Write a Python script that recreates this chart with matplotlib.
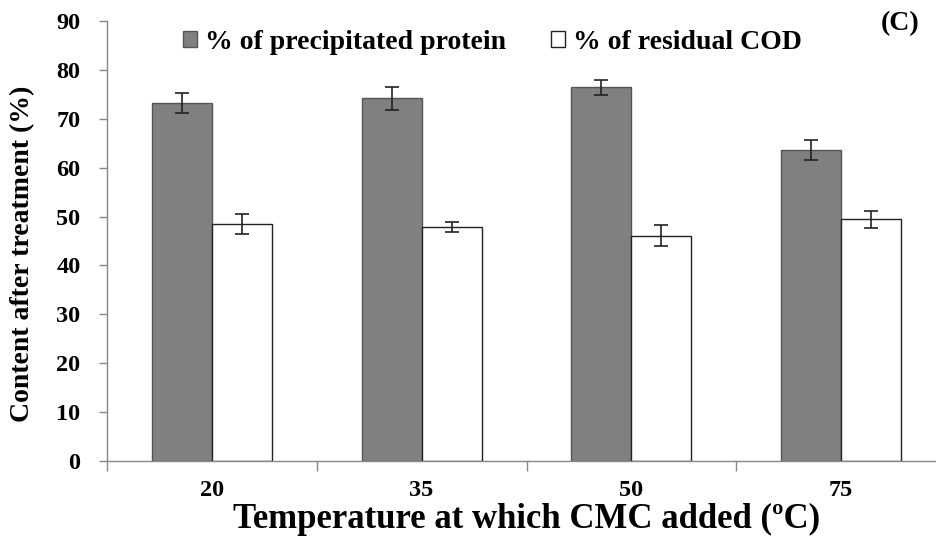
import matplotlib
matplotlib.use("Agg")
import matplotlib.pyplot as plt
import numpy as np
from matplotlib.patches import Patch

categories = ["20", "35", "50", "75"]
protein = [73.2, 74.2, 76.4, 63.6]
protein_err = [2.0, 2.35, 1.6, 2.0]
cod = [48.5, 47.9, 46.1, 49.4]
cod_err = [2.05, 1.0, 2.1, 1.8]

plt.rcParams['font.family'] = ['Liberation Serif', 'DejaVu Serif']
plt.rcParams['font.weight'] = 'bold'

fig = plt.figure(figsize=(9.36, 5.39), dpi=100)
ax = fig.add_axes([107/936, (539-461)/539, 839/936, 440/539])

x = np.arange(len(categories))
w = 0.286
ax.bar(x - w/2, protein, w, color='#808080', edgecolor='#555555', linewidth=1.0,
       yerr=protein_err, capsize=5, error_kw=dict(ecolor='#222222', elinewidth=1.2, capthick=1.2),
       zorder=2)
ax.bar(x + w/2, cod, w, color='white', edgecolor='#222222', linewidth=1.0,
       yerr=cod_err, capsize=5, error_kw=dict(ecolor='#222222', elinewidth=1.2, capthick=1.2),
       zorder=2)

ax.set_xlim(-0.5, len(categories) - 0.5)
ax.set_ylim(0, 90)
ax.set_yticks(np.arange(0, 91, 10))
ax.set_xticks(x)
ax.set_xticklabels(categories)
ax.set_xticks(np.arange(-0.5, len(categories) + 0.5, 1), minor=True)
ax.tick_params(axis='x', which='major', length=0, pad=14, labelsize=17.5)
ax.tick_params(axis='x', which='minor', length=7, color='#888888', width=1)
ax.tick_params(axis='y', length=6, color='#888888', width=1, labelsize=17.5, pad=13)
for lbl in ax.get_xticklabels() + ax.get_yticklabels():
    lbl.set_fontweight('bold')

for s in ['top', 'right']:
    ax.spines[s].set_visible(False)
for s in ['left', 'bottom']:
    ax.spines[s].set_color('#888888')
    ax.spines[s].set_linewidth(1.0)

ax.set_ylabel('Content after treatment (%)', fontsize=20, fontweight='bold')
ax.yaxis.set_label_coords(-0.086, 0.47)
ax.set_xlabel('Temperature at which CMC added (ºC)', fontsize=25, fontweight='bold', labelpad=1)

handles = [Patch(facecolor='#808080', edgecolor='#555555', label='% of precipitated protein'),
           Patch(facecolor='white', edgecolor='#222222', label='% of residual COD')]
leg = ax.legend(handles=handles, loc='center left', bbox_to_anchor=((183-107)/839, (461-42.5)/440),
                ncol=2, frameon=False, prop=dict(family='Liberation Serif', weight='bold', size=20),
                handlelength=0.5, handleheight=0.5, columnspacing=1.6, handletextpad=0.3,
                borderaxespad=0, borderpad=0)

fig.text(900/936, 1 - 24/539, '(C)', fontsize=20, fontweight='bold', ha='center', va='center')

fig.savefig('out.png', dpi=100)
